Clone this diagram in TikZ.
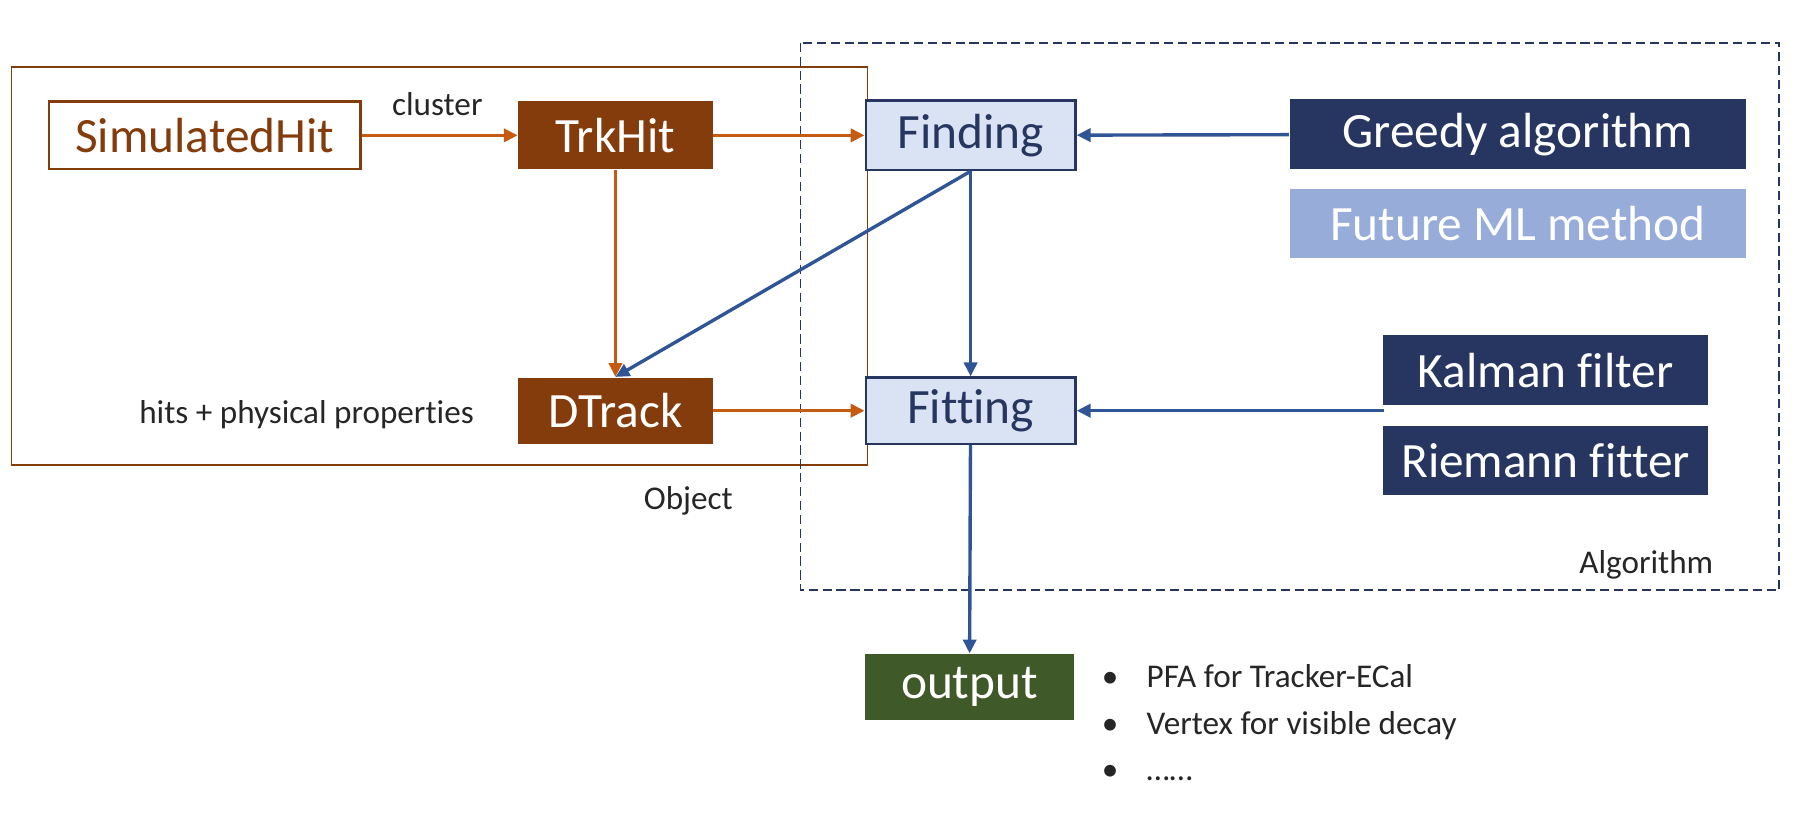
\documentclass[tikz,border=0pt]{standalone}
\usepackage{fontspec}
\setmainfont{Carlito}[Ligatures=CommonOff]
\usetikzlibrary{arrows.meta}

\definecolor{brownfill}{HTML}{843C0C}
\definecolor{orangeline}{HTML}{C55A11}
\definecolor{navy}{HTML}{263660}
\definecolor{blueline}{HTML}{2F5597}
\definecolor{paleblue}{HTML}{DAE3F3}
\definecolor{midblue}{HTML}{97ACD9}
\definecolor{darkgreen}{HTML}{3F5A28}
\definecolor{textgray}{HTML}{262626}

\tikzset{every picture/.style={line width=0.75pt}}
\tikzset{
  bigtext/.style={font=\fontsize{32}{38}\selectfont, inner sep=0pt},
  smalltext/.style={font=\fontsize{21.5}{26}\selectfont, text=textgray, inner sep=0pt},
  simbox/.style={bigtext, draw=brownfill, line width=1.5pt, fill=white, text=brownfill},
  objbox/.style={bigtext, fill=brownfill, text=white},
  stagebox/.style={bigtext, draw=navy, line width=1.5pt, fill=paleblue, text=navy},
  algbox/.style={bigtext, fill=navy, text=white},
  orflow/.style={draw=orangeline, line width=2.2pt, -{Triangle[length=9pt,width=8.5pt]}},
  blflow/.style={draw=blueline, line width=2.2pt, -{Triangle[length=9pt,width=8.5pt]}},
}

\begin{document}
\begin{tikzpicture}[x=0.75pt,y=0.75pt,yscale=-1,xscale=1]
\useasboundingbox (0,0) rectangle (1568,709);

        % frames
        \draw[brownfill, line width=1pt] (10,58) rectangle (750,402);
        \draw[navy, line width=1.2pt, dash pattern=on 6pt off 3pt] (692,37) rectangle (1538,510);
        \node (object) [smalltext] at (595,433) {Object};
        \node (algorithm) [smalltext] at (1423,488) {Algorithm};

        \node (simhit) [simbox, minimum width=202pt, minimum height=44pt] at (177,117) {SimulatedHit};
        \node (trkhit) [objbox, minimum width=126pt, minimum height=44pt] at (532,117) {TrkHit};
        \node (dtrack) [objbox, minimum width=126pt, minimum height=43pt] at (532,355) {DTrack};
        \node (cluster) [smalltext] at (378,90) {cluster};
        \node (props) [smalltext] at (265,358) {hits + physical properties};

        \node (finding) [stagebox, minimum width=136pt, minimum height=45pt] at (839,117) {Finding};
        \node (fitting) [stagebox, minimum width=136pt, minimum height=43pt] at (839,355) {Fitting};

        \node (greedy) [algbox, minimum width=296pt, minimum height=45pt] at (1312,116) {Greedy algorithm};
        \node (future) [algbox, fill=midblue, minimum width=296pt, minimum height=45pt] at (1312,193) {Future ML method};
        \node (kalman) [algbox, minimum width=211pt, minimum height=45pt] at (1336,320) {Kalman filter};
        \node (riemann) [algbox, minimum width=211pt, minimum height=45pt] at (1336,398) {Riemann fitter};
        \coordinate (filters) at (1196,355);

        \node (output) [bigtext, fill=darkgreen, text=white, minimum width=135pt, minimum height=43pt] at (838,594) {output};
        \node (pfa) [smalltext, anchor=west] at (952,584) {\makebox[29pt][l]{\textbullet}PFA for Tracker-ECal};
        \node (vertex) [smalltext, anchor=west] at (952,627) {\makebox[29pt][l]{\textbullet}Vertex for visible decay};
        \node (more) [smalltext, anchor=west] at (952,668) {\makebox[29pt][l]{\textbullet}\dots\dots};

        \draw[orflow] (simhit) -- (trkhit);
        \draw[orflow] (trkhit) -- (dtrack);
        \draw[orflow] (trkhit) -- (finding);
        \draw[orflow] (dtrack) -- (fitting);

        \draw[blflow] (greedy) -- (finding);
        \draw[blflow] (filters) -- (fitting.east);
        \draw[blflow] (finding) -- (fitting);
        \draw[blflow] (finding.south) -- (dtrack.north);
        \draw[blflow] (fitting) -- (output);

\end{tikzpicture}
\end{document}
